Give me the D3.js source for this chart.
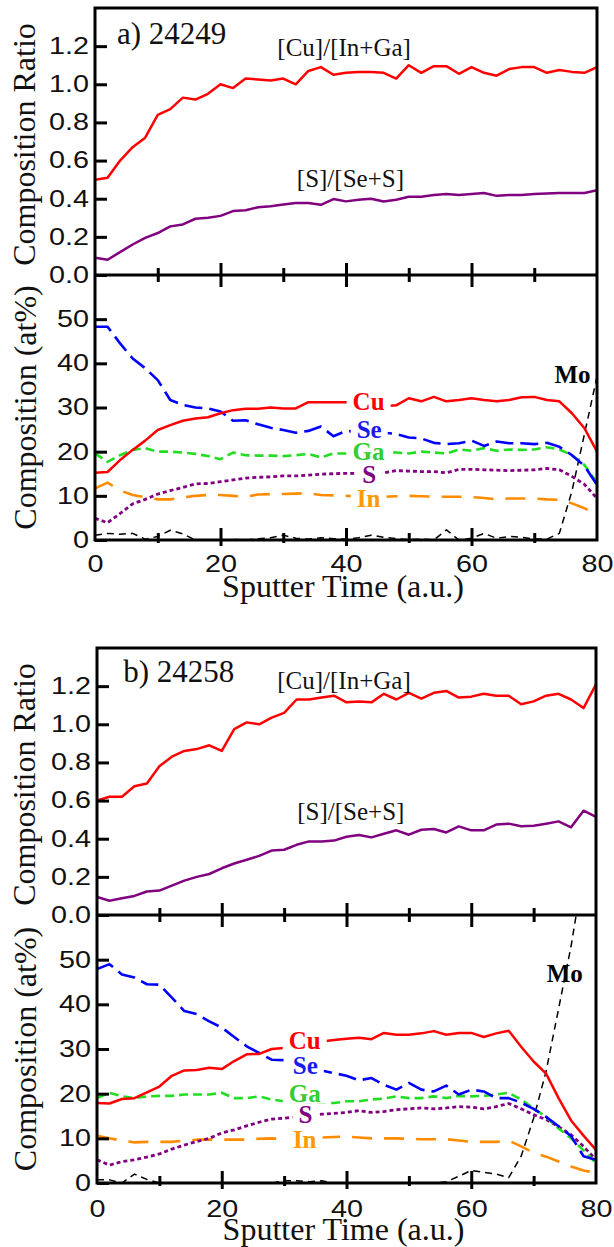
<!DOCTYPE html>
<html><head><meta charset="utf-8">
<script src="https://cdn.jsdelivr.net/npm/d3@7"></script>
<style>
html,body{margin:0;padding:0;background:#fff;}
svg{display:block;}
</style></head><body>
<svg id="chart" width="614" height="1247"></svg>
<script>
// ---------------- DATA ----------------
const sputterTime = [0,2,4,6,8,10,12,14,16,18,20,22,24,26,28,30,32,34,36,38,40,42,44,46,48,50,52,54,56,58,60,62,64,66,68,70,72,74,76,78,80];

// panel a) 24249
const aCuRatio = [0.50,0.51,0.60,0.67,0.72,0.84,0.87,0.93,0.92,0.95,1.00,0.98,1.03,1.025,1.02,1.03,1.00,1.07,1.09,1.05,1.06,1.065,1.065,1.06,1.03,1.10,1.06,1.095,1.095,1.055,1.09,1.06,1.045,1.08,1.09,1.09,1.06,1.075,1.065,1.06,1.09];
const aSRatio  = [0.09,0.08,0.12,0.16,0.195,0.22,0.255,0.265,0.295,0.30,0.31,0.335,0.34,0.355,0.36,0.37,0.378,0.378,0.368,0.398,0.386,0.395,0.40,0.385,0.395,0.41,0.41,0.42,0.425,0.42,0.425,0.43,0.415,0.42,0.42,0.425,0.427,0.43,0.43,0.43,0.445];
const aCu = [15.2,15.4,18.1,20.4,22.5,24.9,26.0,27.0,27.5,27.8,28.7,29.4,29.7,29.7,30.0,29.8,29.8,31.2,31.2,31.2,31.2,31.0,30.8,30.3,30.5,32.1,31.4,32.4,31.4,31.7,32.1,31.7,31.4,31.7,32.3,32.4,31.7,31.4,28.7,25.3,20.0];
const aSe = [48.3,48.3,44.5,41.1,38.9,36.2,31.7,30.6,30.0,29.8,29.1,27.0,27.1,26.2,25.4,24.9,24.3,24.7,25.7,23.5,24.7,24.5,24.4,24.3,24.0,23.2,23.0,22.0,21.7,21.9,22.5,21.3,22.3,21.9,21.9,21.7,22.0,21.1,19.2,16.8,12.5];
const aGa = [19.6,17.7,19.2,20.4,20.8,20.0,20.0,19.8,19.5,19.0,18.3,19.8,19.2,19.1,19.1,19.0,19.2,19.5,18.7,19.6,19.6,19.7,19.8,20.0,19.8,19.6,20.0,19.8,19.6,20.5,20.2,20.8,20.2,20.5,20.4,20.5,21.0,20.5,19.2,17.0,13.0];
const aS  = [4.9,3.9,6.0,8.2,9.2,10.4,11.2,11.9,12.7,12.8,13.2,13.6,14.0,14.2,14.3,14.5,14.5,14.7,14.9,15.0,15.1,15.1,15.2,15.2,15.7,15.6,15.5,15.5,15.2,16.0,16.0,15.9,15.8,15.7,15.8,15.9,16.2,15.9,14.4,12.6,9.4];
const aIn = [11.7,13.0,11.2,10.2,9.7,9.2,9.2,9.6,10.0,10.2,10.2,10.0,9.8,10.3,10.4,10.4,10.5,10.6,10.2,10.1,10.0,9.9,9.9,9.8,9.9,10.0,9.9,9.8,9.8,9.8,9.7,9.5,9.2,9.4,9.4,9.4,9.2,9.1,8.3,7.2,5.7];
const aMo = [1.1,1.5,1.3,1.5,0.2,0.8,2.2,1.4,0.0,0.1,0.0,0.1,0.0,0.3,0.5,1.1,0.4,0.2,0.5,0.3,0.2,0.5,1.1,0.6,0.3,0.1,0.2,0.0,2.3,0.0,0.4,1.5,0.4,0.8,0.6,0.2,0.2,1.5,11.0,24.0,37.0];

// panel b) 24258
const bCuRatio = [0.60,0.62,0.62,0.675,0.69,0.78,0.83,0.86,0.87,0.89,0.86,0.975,1.01,1.00,1.035,1.06,1.13,1.13,1.14,1.15,1.115,1.12,1.115,1.16,1.13,1.165,1.135,1.165,1.175,1.14,1.145,1.16,1.15,1.15,1.105,1.12,1.15,1.16,1.13,1.085,1.21];
const bSRatio  = [0.095,0.075,0.088,0.10,0.123,0.128,0.154,0.18,0.20,0.215,0.245,0.27,0.29,0.31,0.338,0.342,0.368,0.386,0.386,0.39,0.41,0.42,0.407,0.426,0.444,0.421,0.447,0.451,0.433,0.465,0.444,0.444,0.474,0.479,0.465,0.468,0.479,0.491,0.46,0.547,0.515];
const bCu = [17.9,17.8,18.8,19.0,20.3,21.6,24.0,25.2,25.3,25.8,25.5,27.3,28.8,28.9,30.0,30.2,30.8,31.3,31.7,32.0,32.3,32.5,32.2,33.6,33.2,33.2,33.5,34.0,33.2,33.6,33.6,32.7,33.5,34.1,30.5,27.2,24.5,19.0,14.0,10.6,7.4];
const bSe = [47.9,49.0,46.7,46.0,44.5,44.4,41.5,38.5,37.8,36.2,34.8,32.7,30.6,29.1,27.6,27.5,26.9,26.2,25.2,24.6,24.0,23.0,23.5,22.0,20.9,22.4,20.9,20.5,21.8,19.8,20.9,20.5,19.0,19.0,18.0,16.6,14.8,12.7,10.5,6.0,5.2];
const bGa = [19.0,20.2,19.4,19.0,19.4,19.5,19.5,19.8,19.8,19.8,20.2,19.0,19.0,19.4,18.7,18.3,18.2,18.1,18.0,17.9,18.3,18.3,18.7,18.9,19.4,19.0,19.0,19.4,19.0,19.5,19.4,19.5,19.8,20.2,18.7,16.7,14.8,12.2,10.0,7.3,4.4];
const bS  = [5.2,4.0,4.8,5.2,5.8,6.5,7.6,8.5,9.3,10.0,11.2,11.9,12.8,13.6,14.3,14.5,14.8,15.1,15.4,15.6,15.8,16.2,15.8,16.0,16.4,16.6,16.8,16.6,16.8,17.1,17.0,16.6,17.1,17.8,16.6,15.3,14.2,12.6,10.8,8.2,5.2];
const bIn = [10.6,10.0,9.5,9.1,9.2,9.2,9.2,9.5,9.7,9.7,9.7,9.7,9.7,9.9,10.0,9.7,9.9,10.1,10.2,10.3,10.4,10.2,10.0,10.0,10.0,9.9,9.8,9.8,9.8,9.5,9.2,9.2,9.2,9.5,8.2,6.8,5.9,4.8,3.7,2.8,2.3];
const bMo = [0.7,0.7,0.0,2.0,0.8,0.0,0.0,0.0,0.0,0.0,0.0,0.0,0.0,0.0,0.0,0.5,0.5,0.3,0.5,0.0,0.0,0.0,0.0,0.0,0.0,0.0,0.0,0.0,0.3,1.5,2.8,2.4,2.0,1.2,6.0,14.5,25.0,39.0,53.0,70.0];

// tick values / labels
const ratioTicks = [0,0.2,0.4,0.6,0.8,1.0,1.2];
const compTicks  = [0,10,20,30,40,50];
const timeTicks  = [0,10,20,30,40,50,60,70,80];
const timeLabels = [0,20,40,60,80];
const elementNames = ["Cu","Se","Ga","S","In","Mo"];

// ---------------- STYLE / LAYOUT ----------------
const styles = {
  Cu:{color:"#ff0000", text:"#ff0000", width:2.5, dash:null},
  Se:{color:"#0000ff", text:"#1a1aee", width:2.6, dash:"18,7"},
  Ga:{color:"#22dd22", text:"#33cc33", width:2.6, dash:"9,5"},
  S: {color:"#800080", text:"#800080", width:2.8, dash:"4,3"},
  In:{color:"#ff8c00", text:"#ff9900", width:2.6, dash:"20,12"},
  Mo:{color:"#000000", text:"#000000", width:1.5, dash:"7,5"}
};
const ratioColors = {cu:"#ff0000", s:"#800080"};

const panels = [
  {name:"a) 24249", top:8, mid:275, bottom:540, left:95, right:597,
   cuRatio:aCuRatio, sRatio:aSRatio,
   comp:{Cu:aCu,Se:aSe,Ga:aGa,S:aS,In:aIn,Mo:aMo},
   nameAt:[3.5,1.21], cuRatioAt:[39.7,1.147], sRatioAt:[40.7,0.463],
   elemAt:{Cu:[43.6,29.4],Se:[43.7,23.1],Ga:[43.6,18.1],S:[43.7,12.9],In:[43.6,7.5],Mo:[76.1,35.5]},
   tickLabelOffset:32, titleOffset:57},
  {name:"b) 24258", top:648, mid:915, bottom:1183, left:97, right:596,
   cuRatio:bCuRatio, sRatio:bSRatio,
   comp:{Cu:bCu,Se:bSe,Ga:bGa,S:bS,In:bIn,Mo:bMo},
   nameAt:[4.2,1.221], cuRatioAt:[39.6,1.184], sRatioAt:[40.7,0.50],
   elemAt:{Cu:[33.3,29.9],Se:[33.4,24.3],Ga:[33.3,18.2],S:[33.4,13.5],In:[33.3,7.9],Mo:[75.0,44.9]},
   tickLabelOffset:34, titleOffset:57}
];

const SERIF = "'Liberation Serif','Times New Roman',serif";
const SANS  = "'Liberation Sans',Arial,sans-serif";

const svg = d3.select("#chart");
svg.append("rect").attr("width",614).attr("height",1247).attr("fill","#fff");

function stretchText(sel, f){
  sel.each(function(){
    const w = this.getComputedTextLength();
    if (w>0) d3.select(this).attr("textLength", w*f).attr("lengthAdjust","spacingAndGlyphs");
  });
}

panels.forEach((p,pi)=>{
  const x  = d3.scaleLinear().domain([0,80]).range([p.left,p.right]);
  const yR = d3.scaleLinear().domain([0,1.4]).range([p.mid,p.top]);
  const yC = d3.scaleLinear().domain([0,60]).range([p.bottom,p.mid]);
  const g = svg.append("g");

  const defs = svg.append("defs");
  defs.append("clipPath").attr("id","clipU"+pi).append("rect")
    .attr("x",p.left).attr("y",p.top).attr("width",p.right-p.left).attr("height",p.mid-p.top);
  defs.append("clipPath").attr("id","clipL"+pi).append("rect")
    .attr("x",p.left).attr("y",p.mid).attr("width",p.right-p.left).attr("height",p.bottom-p.mid);

  // upper: ratio lines
  const lineR = d3.line().x(d=>x(d[0])).y(d=>yR(d[1]));
  const gu = g.append("g").attr("clip-path","url(#clipU"+pi+")");
  gu.append("path").datum(d3.zip(sputterTime,p.cuRatio)).attr("d",lineR)
    .attr("fill","none").attr("stroke",ratioColors.cu).attr("stroke-width",2.5).attr("stroke-linejoin","round");
  gu.append("path").datum(d3.zip(sputterTime,p.sRatio)).attr("d",lineR)
    .attr("fill","none").attr("stroke",ratioColors.s).attr("stroke-width",2.5).attr("stroke-linejoin","round");

  // lower: composition lines
  const lineC = d3.line().x(d=>x(d[0])).y(d=>yC(d[1]));
  const gl = g.append("g").attr("clip-path","url(#clipL"+pi+")");
  ["Mo","In","S","Ga","Se","Cu"].forEach(k=>{
    const st = styles[k];
    gl.append("path").datum(d3.zip(sputterTime,p.comp[k])).attr("d",lineC)
      .attr("fill","none").attr("stroke",st.color).attr("stroke-width",st.width)
      .attr("stroke-dasharray",st.dash).attr("stroke-linejoin","round");
  });

  // element labels with white background
  elementNames.forEach(k=>{
    const pos = p.elemAt[k];
    const t = g.append("text").attr("x",x(pos[0])).attr("y",yC(pos[1]))
      .attr("text-anchor","middle").attr("font-family",SERIF).attr("font-weight","bold")
      .attr("font-size", k==="Mo"?25:25).attr("fill",styles[k].text).text(k);
    if (k!=="Mo"){
      const bb = t.node().getBBox();
      g.insert("rect", function(){ return t.node(); })
        .attr("x",bb.x-6).attr("y",bb.y+4).attr("width",bb.width+12).attr("height",bb.height-7)
        .attr("fill","#fff");
    }
  });

  // ratio labels
  g.append("text").attr("x",x(p.cuRatioAt[0])).attr("y",yR(p.cuRatioAt[1]))
    .attr("text-anchor","middle").attr("font-family",SERIF).attr("font-size",25).attr("fill","#111")
    .text("[Cu]/[In+Ga]");
  g.append("text").attr("x",x(p.sRatioAt[0])).attr("y",yR(p.sRatioAt[1]))
    .attr("text-anchor","middle").attr("font-family",SERIF).attr("font-size",25).attr("fill","#111")
    .text("[S]/[Se+S]");
  g.append("text").attr("x",x(p.nameAt[0])).attr("y",yR(p.nameAt[1]))
    .attr("font-family",SERIF).attr("font-size",31).attr("fill","#111").text(p.name);

  // frame
  g.append("path")
    .attr("d",`M${p.left},${p.mid}V${p.top}H${p.right}V${p.bottom}H${p.left}Z M${p.left},${p.mid}H${p.right}`)
    .attr("fill","none").attr("stroke","#000").attr("stroke-width",3).attr("stroke-linejoin","miter");

  // y axes
  const ax1 = g.append("g").attr("transform",`translate(${p.left},0)`)
    .call(d3.axisLeft(yR).tickValues(ratioTicks).tickFormat(d3.format(".1f"))
      .tickSizeInner(-12).tickSizeOuter(0).tickPadding(6));
  const ax2 = g.append("g").attr("transform",`translate(${p.left},0)`)
    .call(d3.axisLeft(yC).tickValues(compTicks).tickFormat(d3.format("d"))
      .tickSizeInner(-12).tickSizeOuter(0).tickPadding(6));
  [ax1,ax2].forEach(a=>{
    a.select(".domain").remove();
    a.selectAll(".tick line").attr("stroke","#000").attr("stroke-width",3);
    a.selectAll(".tick text").attr("font-family",SANS).attr("font-size",23).attr("fill","#111");
    stretchText(a.selectAll(".tick text"),1.25);
  });

  // x ticks on shared line
  const inner = timeTicks.filter(t=>t>0&&t<80);
  const axM = g.append("g").attr("transform",`translate(0,${p.mid})`)
    .call(d3.axisBottom(x).tickValues(inner).tickFormat("").tickSize(0));
  axM.select(".domain").remove();
  axM.selectAll(".tick line").attr("stroke","#000").attr("stroke-width",3)
    .attr("y1",d=>d%20===0?-12:-7).attr("y2",d=>d%20===0?12:7);

  // bottom x axis
  const axB = g.append("g").attr("transform",`translate(0,${p.bottom})`)
    .call(d3.axisBottom(x).tickValues(timeTicks)
      .tickFormat(d=>timeLabels.includes(d)?String(d):"").tickSize(0));
  axB.select(".domain").remove();
  axB.selectAll(".tick line").attr("stroke","#000").attr("stroke-width",3)
    .attr("y1",d=>(d===0||d===80)?0:(d%20===0?-12:-7))
    .attr("y2",d=>(d===0||d===80)?0:(d%20===0?6:3));
  axB.selectAll(".tick text").attr("y",p.tickLabelOffset).attr("dy",null)
    .attr("font-family",SANS).attr("font-size",23).attr("fill","#111");
  stretchText(axB.selectAll(".tick text"),1.25);

  // axis titles
  g.append("text").attr("transform",`translate(35,${(p.top+p.mid)/2+3}) rotate(-90)`)
    .attr("text-anchor","middle").attr("font-family",SERIF).attr("font-size",32).attr("fill","#111")
    .text("Composition Ratio");
  g.append("text").attr("transform",`translate(36,${(p.mid+p.bottom)/2}) rotate(-90)`)
    .attr("text-anchor","middle").attr("font-family",SERIF).attr("font-size",32).attr("fill","#111")
    .text("Composition (at%)");
  g.append("text").attr("x",(p.left+p.right)/2-3).attr("y",p.bottom+p.titleOffset)
    .attr("text-anchor","middle").attr("font-family",SERIF).attr("font-size",32).attr("fill","#111")
    .text("Sputter Time (a.u.)");
});
</script>
</body></html>
